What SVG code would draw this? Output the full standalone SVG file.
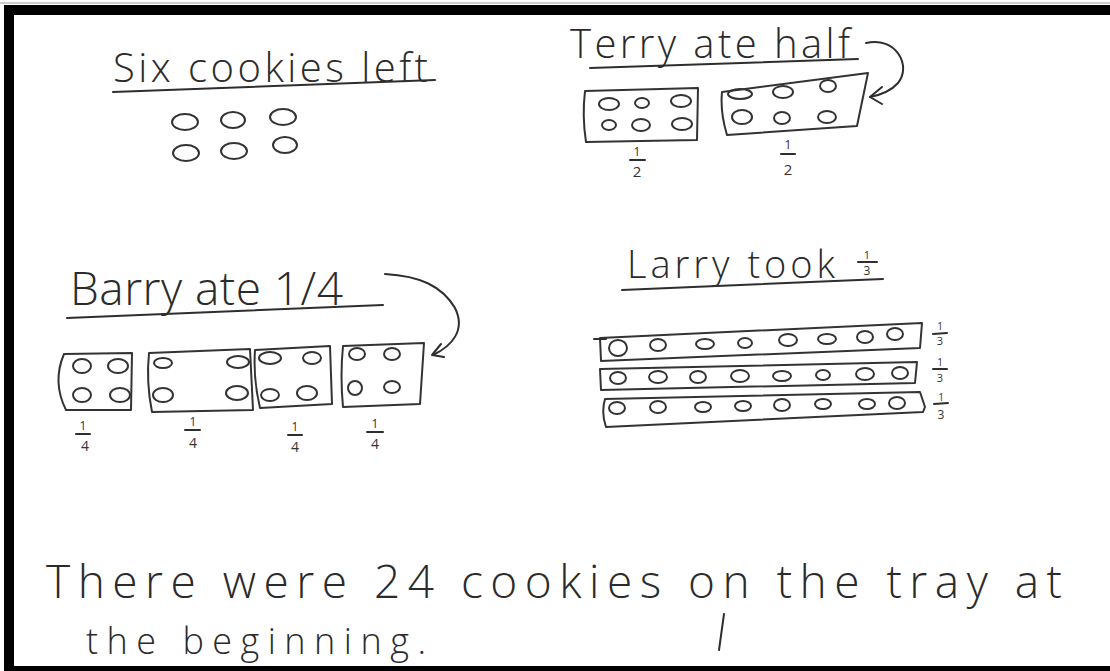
<svg xmlns="http://www.w3.org/2000/svg" width="1110" height="671" viewBox="0 0 1110 671">
  <style>
    .hw { font-family: "Open Sans", "Liberation Sans", sans-serif; font-weight: 300; fill: #2b2b2b; }
    .fr { font-family: "Open Sans", "Liberation Sans", sans-serif; font-weight: 400; fill: #333; text-anchor: middle; }
    .ln { fill: none; stroke: #2e2e2e; stroke-width: 2; stroke-linecap: round; stroke-linejoin: round; }
    .ck { fill: none; stroke: #333; stroke-width: 2; }
    .bx { fill: none; stroke: #333; stroke-width: 2; stroke-linejoin: round; }
  </style>
  <rect width="1110" height="671" fill="#ffffff"/>
  <line x1="0" y1="3" x2="1110" y2="3" stroke="#bbbbbb" stroke-width="1.5"/>
  <rect x="9" y="10" width="1120" height="661" fill="none" stroke="#000" stroke-width="10"/>

  <g id="six-cookies">
    <text class="hw" x="113" y="82" font-size="40" textLength="315" lengthAdjust="spacing">Six cookies left</text>
    <path class="ln" d="M113,92 L435,80"/>
    <ellipse class="ck" cx="185" cy="122" rx="13" ry="8"/>
    <ellipse class="ck" cx="233" cy="120" rx="12" ry="8"/>
    <ellipse class="ck" cx="283" cy="117" rx="13" ry="8"/>
    <ellipse class="ck" cx="186" cy="153" rx="13" ry="8"/>
    <ellipse class="ck" cx="234" cy="151" rx="13" ry="8"/>
    <ellipse class="ck" cx="285" cy="145" rx="12" ry="8"/>
  </g>

  <g id="terry">
    <text class="hw" x="570" y="58" font-size="40" textLength="280" lengthAdjust="spacing">Terry  ate half</text>
    <path class="ln" d="M590,68 L858,59"/>
    <path class="bx" d="M585,91 L698,88 L697,140 L586,142 Q582,116 585,91 Z"/>
    <ellipse class="ck" cx="609" cy="104" rx="10" ry="6"/>
    <ellipse class="ck" cx="642" cy="103" rx="7" ry="5"/>
    <ellipse class="ck" cx="681" cy="101" rx="10" ry="6"/>
    <ellipse class="ck" cx="609" cy="125" rx="7" ry="5"/>
    <ellipse class="ck" cx="641" cy="125" rx="9" ry="6"/>
    <ellipse class="ck" cx="682" cy="124" rx="10" ry="6"/>
    <path class="bx" d="M722,92 L868,73 L857,126 L727,135 Q720,112 722,92 Z"/>
    <ellipse class="ck" cx="740" cy="94" rx="12" ry="5"/>
    <ellipse class="ck" cx="783" cy="92" rx="10" ry="6"/>
    <ellipse class="ck" cx="828" cy="86" rx="8" ry="6"/>
    <ellipse class="ck" cx="742" cy="117" rx="10" ry="7"/>
    <ellipse class="ck" cx="782" cy="118" rx="8" ry="6"/>
    <ellipse class="ck" cx="827" cy="117" rx="9" ry="6"/>
    <text class="fr" x="637" y="156" font-size="12">1</text>
    <line class="ln" x1="630" y1="160" x2="645" y2="160" stroke-width="1.5"/>
    <text class="fr" x="637" y="177" font-size="15">2</text>
    <text class="fr" x="788" y="149" font-size="12">1</text>
    <line class="ln" x1="781" y1="154" x2="795" y2="154" stroke-width="1.5"/>
    <text class="fr" x="788" y="175" font-size="15">2</text>
  </g>

  <g id="barry">
    <text class="hw" x="70" y="305" font-size="46" textLength="273" lengthAdjust="spacing">Barry ate 1/4</text>
    <path class="ln" d="M67,318 L383,305"/>
    <path class="bx" d="M64,354 L132,353 L131,410 L66,410 Q52,382 64,354 Z"/>
    <ellipse class="ck" cx="82" cy="366" rx="9" ry="7"/>
    <ellipse class="ck" cx="118" cy="366" rx="10" ry="7"/>
    <ellipse class="ck" cx="82" cy="395" rx="9" ry="7"/>
    <ellipse class="ck" cx="120" cy="395" rx="10" ry="7"/>
    <path class="bx" d="M149,353 L250,349 L253,410 L152,412 Q146,382 149,353 Z"/>
    <ellipse class="ck" cx="163" cy="363" rx="9" ry="5"/>
    <ellipse class="ck" cx="238" cy="362" rx="11" ry="6"/>
    <ellipse class="ck" cx="163" cy="395" rx="10" ry="7"/>
    <ellipse class="ck" cx="237" cy="393" rx="11" ry="7"/>
    <path class="bx" d="M255,350 L330,346 L332,404 L260,408 Q253,378 255,350 Z"/>
    <ellipse class="ck" cx="270" cy="358" rx="11" ry="6"/>
    <ellipse class="ck" cx="312" cy="358" rx="9" ry="6"/>
    <ellipse class="ck" cx="270" cy="395" rx="9" ry="6"/>
    <ellipse class="ck" cx="307" cy="393" rx="10" ry="7"/>
    <path class="bx" d="M343,346 L424,343 L420,404 L343,407 Q340,376 343,346 Z"/>
    <ellipse class="ck" cx="357" cy="354" rx="8" ry="6"/>
    <ellipse class="ck" cx="392" cy="354" rx="8" ry="6"/>
    <ellipse class="ck" cx="355" cy="388" rx="7" ry="7"/>
    <ellipse class="ck" cx="392" cy="387" rx="8" ry="6"/>
    <text class="fr" x="83" y="430" font-size="12">1</text>
    <line class="ln" x1="76" y1="434" x2="90" y2="434" stroke-width="1.5"/>
    <text class="fr" x="85" y="451" font-size="14">4</text>
    <text class="fr" x="193" y="426" font-size="12">1</text>
    <line class="ln" x1="185" y1="430" x2="200" y2="430" stroke-width="1.5"/>
    <text class="fr" x="193" y="448" font-size="14">4</text>
    <text class="fr" x="295" y="431" font-size="12">1</text>
    <line class="ln" x1="288" y1="435" x2="302" y2="435" stroke-width="1.5"/>
    <text class="fr" x="295" y="452" font-size="14">4</text>
    <text class="fr" x="375" y="428" font-size="12">1</text>
    <line class="ln" x1="367" y1="432" x2="383" y2="432" stroke-width="1.5"/>
    <text class="fr" x="375" y="449" font-size="14">4</text>
  </g>

  <g id="larry">
    <text class="hw" x="627" y="278" font-size="38" textLength="208" lengthAdjust="spacing">Larry took</text>
    <text class="fr" x="867" y="259" font-size="11">1</text>
    <line class="ln" x1="858" y1="262" x2="877" y2="262" stroke-width="1.5"/>
    <text class="fr" x="867" y="275" font-size="12">3</text>
    <path class="ln" d="M622,290 L883,279"/>
    <path class="bx" d="M600,338 L922,323 L920,348 L601,361 Z"/>
    <path class="ln" d="M594,339 L606,339" stroke-width="1.5"/>
    <ellipse class="ck" cx="618" cy="348" rx="9" ry="8"/>
    <ellipse class="ck" cx="658" cy="345" rx="8" ry="6"/>
    <ellipse class="ck" cx="705" cy="344" rx="9" ry="5"/>
    <ellipse class="ck" cx="745" cy="343" rx="7" ry="5"/>
    <ellipse class="ck" cx="788" cy="340" rx="9" ry="6"/>
    <ellipse class="ck" cx="827" cy="339" rx="9" ry="5"/>
    <ellipse class="ck" cx="865" cy="337" rx="8" ry="6"/>
    <ellipse class="ck" cx="895" cy="334" rx="8" ry="6"/>
    <path class="bx" d="M600,369 L917,362 L915,383 L601,390 Z"/>
    <ellipse class="ck" cx="618" cy="378" rx="8" ry="6"/>
    <ellipse class="ck" cx="658" cy="377" rx="9" ry="6"/>
    <ellipse class="ck" cx="698" cy="377" rx="8" ry="6"/>
    <ellipse class="ck" cx="740" cy="376" rx="9" ry="6"/>
    <ellipse class="ck" cx="782" cy="376" rx="9" ry="5"/>
    <ellipse class="ck" cx="823" cy="375" rx="7" ry="5"/>
    <ellipse class="ck" cx="865" cy="374" rx="9" ry="6"/>
    <ellipse class="ck" cx="900" cy="373" rx="8" ry="6"/>
    <path class="bx" d="M605,399 L920,392 L925,407 L923,412 L606,427 Q601,413 605,399 Z"/>
    <ellipse class="ck" cx="617" cy="408" rx="8" ry="6"/>
    <ellipse class="ck" cx="658" cy="407" rx="8" ry="6"/>
    <ellipse class="ck" cx="703" cy="407" rx="8" ry="5"/>
    <ellipse class="ck" cx="743" cy="406" rx="8" ry="5"/>
    <ellipse class="ck" cx="782" cy="405" rx="8" ry="6"/>
    <ellipse class="ck" cx="823" cy="404" rx="8" ry="5"/>
    <ellipse class="ck" cx="867" cy="404" rx="8" ry="5"/>
    <ellipse class="ck" cx="897" cy="403" rx="8" ry="6"/>
    <text class="fr" x="940" y="330" font-size="10" fill="#555">1</text>
    <line class="ln" x1="933" y1="334" x2="947" y2="333" stroke-width="1.2"/>
    <text class="fr" x="940" y="345" font-size="11" fill="#555">3</text>
    <text class="fr" x="940" y="366" font-size="10" fill="#555">1</text>
    <line class="ln" x1="933" y1="369" x2="947" y2="369" stroke-width="1.2"/>
    <text class="fr" x="940" y="382" font-size="11" fill="#555">3</text>
    <text class="fr" x="941" y="401" font-size="10" fill="#555">1</text>
    <line class="ln" x1="934" y1="404" x2="948" y2="403" stroke-width="1.2"/>
    <text class="fr" x="941" y="419" font-size="12" fill="#555">3</text>
  </g>

  <g id="conclusion">
    <text class="hw" x="46" y="598" font-size="46" textLength="1016" lengthAdjust="spacing">There were 24 cookies on the tray at</text>
    <text class="hw" x="86" y="654" font-size="36" textLength="340" lengthAdjust="spacing">the beginning.</text>
    <path class="ln" d="M724,614 L719,650" stroke-width="1.2" stroke="#666"/>
  </g>

  <g id="connectors">
    <path class="ln" d="M866,43 C896,36 912,66 898,83 C890,92 880,95 870,97"/>
    <path class="ln" d="M882,87 L870,97 L882,104"/>
    <path class="ln" d="M385,274 C420,276 442,286 455,308 C466,330 452,346 433,355"/>
    <path class="ln" d="M441,344 L432,355 L444,357"/>
  </g>
</svg>
